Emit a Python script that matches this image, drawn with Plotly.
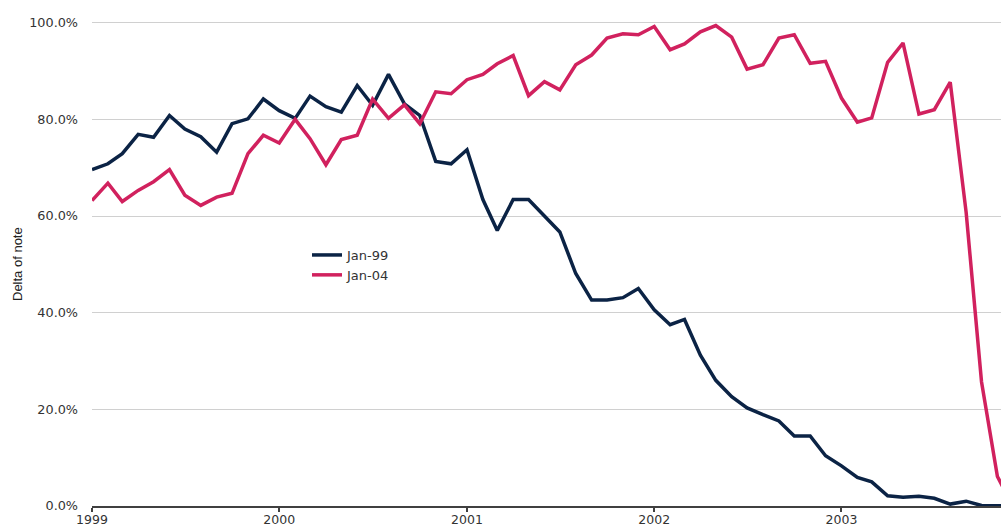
import plotly.graph_objects as go

months = [f"{1999 + k // 12}-{k % 12 + 1:02d}-01" for k in range(60)]

jan99 = [69.6, 70.8, 72.9, 76.9, 76.3, 80.8, 78.0, 76.4, 73.2, 79.1, 80.1, 84.2,
         81.8, 80.2, 84.8, 82.6, 81.5, 87.0, 82.9, 89.3, 83.2, 80.8, 71.3, 70.8,
         73.7, 63.4, 57.0, 63.4, 63.4, 60.1, 56.7, 48.1, 42.6, 42.6, 43.1, 45.0,
         40.6, 37.5, 38.6, 31.2, 26.0, 22.6, 20.3, 18.9, 17.6, 14.5, 14.5, 10.4,
         8.3, 5.9, 5.0, 2.1, 1.8, 2.0, 1.6, 0.4, 1.0, 0.1, 0.0, 0.0]

jan04 = [63.2, 66.8, 63.0, 65.3, 67.1, 69.6, 64.3, 62.2, 63.9, 64.7, 72.9, 76.7,
         75.1, 80.0, 76.0, 70.6, 75.8, 76.7, 84.2, 80.2, 83.0, 79.1, 85.7, 85.3,
         88.2, 89.3, 91.5, 93.2, 84.9, 87.8, 86.1, 91.3, 93.3, 96.8, 97.7, 97.5,
         99.2, 94.4, 95.6, 98.1, 99.4, 97.0, 90.4, 91.3, 96.8, 97.5, 91.6, 92.0,
         84.4, 79.4, 80.3, 91.8, 95.8, 81.1, 82.0, 87.7, 60.8, 25.7, 6.1, 0.0]

series_names = ["Jan-99", "Jan-04"]
series_colors = ["#0b2345", "#d1215e"]
y_ticks = [0, 0.2, 0.4, 0.6, 0.8, 1.0]
x_ticks = ["1999-01-01", "2000-01-01", "2001-01-01", "2002-01-01", "2003-01-01"]
x_tick_labels = ["1999", "2000", "2001", "2002", "2003"]

FONT = "DejaVu Sans"
TICK_COLOR = "#333333"

W, H = 1001, 527
ML, MR, MT, MB = 92, 0, 13, 21
plot_w = W - ML - MR
plot_h = H - MT - MB

fig = go.Figure()
for name, vals, col in zip(series_names, [jan99, jan04], series_colors):
    fig.add_trace(go.Scatter(
        x=months, y=[v / 100 for v in vals], name=name, mode="lines",
        line=dict(color=col, width=3.5),
    ))

fig.update_layout(
    width=W, height=H,
    margin=dict(l=ML, r=MR, t=MT, b=MB, autoexpand=False),
    paper_bgcolor="white", plot_bgcolor="white",
    showlegend=True,
    legend=dict(x=(307 - ML) / plot_w, y=(H - MB - 240) / plot_h,
                xanchor="left", yanchor="top",
                font=dict(family=FONT, size=13, color=TICK_COLOR),
                bgcolor="rgba(0,0,0,0)", itemwidth=30, tracegroupgap=0),
    font=dict(family=FONT, size=12.8, color=TICK_COLOR),
)
fig.update_xaxes(
    type="date", range=["1999-01-01", "2003-11-08"],
    tickvals=x_ticks, ticktext=x_tick_labels,
    showgrid=False, showline=True, linecolor="#404040", linewidth=1.5,
    ticks="outside", ticklen=4, tickcolor="#404040", tickwidth=1.5,
    ticklabelstandoff=-3,
    tickfont=dict(family=FONT, size=12.5, color=TICK_COLOR),
    zeroline=False,
)
fig.update_yaxes(
    range=[0, 1.02], tickvals=y_ticks, tickformat=".1%",
    showgrid=True, gridcolor="#d0d0d0", gridwidth=1,
    showline=False, zeroline=False, ticks="", ticklabelstandoff=13,
    tickfont=dict(family=FONT, size=12.8, color=TICK_COLOR),
)
fig.add_annotation(
    text="Delta of note", textangle=-90, xref="paper", yref="paper",
    x=(17 - ML) / plot_w, y=(H - MB - 264) / plot_h,
    xanchor="center", yanchor="middle", showarrow=False,
    font=dict(family="Liberation Sans", size=13, color="#222222"),
)

fig.write_html(
    "out.html",
    config={"displayModeBar": False},
    post_script="document.body.style.margin='0';document.body.style.overflow='hidden';",
)
